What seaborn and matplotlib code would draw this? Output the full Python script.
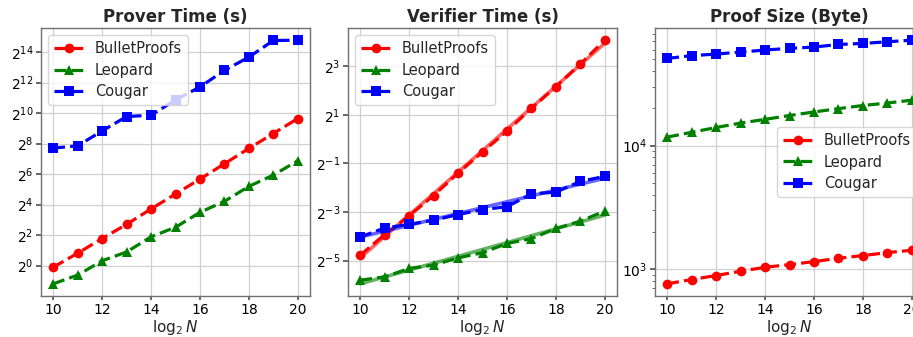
import numpy as np
import pandas as pd
import matplotlib
matplotlib.use("Agg")
import matplotlib.pyplot as plt
import seaborn as sns

log2_n = [10, 11, 12, 13, 14, 15, 16, 17, 18, 19, 20]
series_names = ["BulletProofs", "Leopard", "Cougar"]

prover_bullet = [0.927, 1.75, 3.41, 6.50, 13.1, 25.8, 50.9, 102, 205, 404, 798]
prover_leopard = [0.435, 0.646, 1.24, 1.85, 3.68, 5.70, 11.2, 18.5, 36.5, 61.0, 117]
prover_cougar = [208, 231, 455, 873, 929, 1859, 3350, 7130, 13030, 27740, 28130]

verifier_bullet = [0.0364, 0.0656, 0.112, 0.200, 0.379, 0.693, 1.257, 2.41, 4.47, 8.57, 16.9]
verifier_leopard = [0.0178, 0.0196, 0.0249, 0.0274, 0.0337, 0.0390, 0.0508, 0.0583, 0.0780, 0.0961, 0.1285]
verifier_cougar = [0.0612, 0.0791, 0.0878, 0.0988, 0.116, 0.134, 0.145, 0.210, 0.220, 0.299, 0.346]

size_bullet = [757, 820, 884, 957, 1031, 1083, 1146, 1219, 1282, 1356, 1416]
size_leopard = [11700, 12800, 14000, 15200, 16300, 17500, 18700, 19900, 21100, 22100, 23300]
size_cougar = [50800, 53500, 55100, 57200, 59400, 61300, 62800, 65900, 67200, 69300, 71400]

titles = ["Prover Time (s)", "Verifier Time (s)", "Proof Size (Byte)"]
prover_ticks = [2.0 ** k for k in range(0, 15, 2)]
verifier_ticks = [2.0 ** k for k in range(-5, 4, 2)]

sns.set_theme(style="whitegrid")
plt.rcParams.update({
    "font.family": ["DejaVu Sans"],
    "axes.edgecolor": "#707070",
    "axes.linewidth": 1.0,
    "grid.color": "#d0d0d0",
    "grid.linewidth": 0.9,
    "xtick.bottom": True,
    "ytick.left": True,
    "xtick.color": "#555555",
    "ytick.color": "#555555",
    "xtick.labelcolor": "black",
    "ytick.labelcolor": "black",
    "xtick.major.size": 3.0,
    "ytick.major.size": 3.5,
    "ytick.minor.size": 2.0,
    "ytick.minor.width": 0.6,
    "xtick.labelsize": 10,
    "ytick.labelsize": 10,
})

colors = ["red", "green", "blue"]
markers = ["o", "^", "s"]

W, H = 913, 337
fig = plt.figure(figsize=(W / 100, H / 100), dpi=100)
axes = []
for left in (41, 348, 655):
    axes.append(fig.add_axes([left / W, (H - 296) / H, 269 / W, 268 / H]))

data = [
    [prover_bullet, prover_leopard, prover_cougar],
    [verifier_bullet, verifier_leopard, verifier_cougar],
    [size_bullet, size_leopard, size_cougar],
]

x = np.array(log2_n)
for i, ax in enumerate(axes):
    if i < 2:
        ax.set_yscale("log", base=2)
    else:
        ax.set_yscale("log", base=10)
    for name, vals, c, m in zip(series_names, data[i], colors, markers):
        sns.lineplot(x=log2_n, y=vals, ax=ax, color=c, marker=m, linestyle="--",
                     linewidth=2.3, markersize=7, markeredgewidth=0, label=name)
        if i == 1:
            coef = np.polyfit(x, np.log2(vals), 1)
            fit = 2.0 ** np.polyval(coef, x)
            sns.lineplot(x=log2_n, y=fit, ax=ax, color=c, linestyle="-",
                         linewidth=2.6, alpha=0.6, legend=False)
    ax.set_title(titles[i], fontsize=12, fontweight="bold", pad=4)
    ax.set_xlabel(r"$\log_2 N$", fontsize=11, labelpad=1)
    ax.set_ylabel("")
    ax.set_xticks([10, 12, 14, 16, 18, 20])
    ax.grid(True, which="major")
    ax.grid(False, which="minor")
    ax.tick_params(axis="both", pad=2)

axes[0].set_yticks(prover_ticks)
axes[1].set_yticks(verifier_ticks)

leg_kw = dict(fontsize=10.5, framealpha=0.8, borderpad=0.4, labelspacing=0.45,
              handlelength=2.0, handletextpad=0.8)
axes[0].legend(loc="upper left", **leg_kw)
axes[1].legend(loc="upper left", **leg_kw)
axes[2].legend(loc="center right", **leg_kw)

fig.savefig("out.png", dpi=100)
